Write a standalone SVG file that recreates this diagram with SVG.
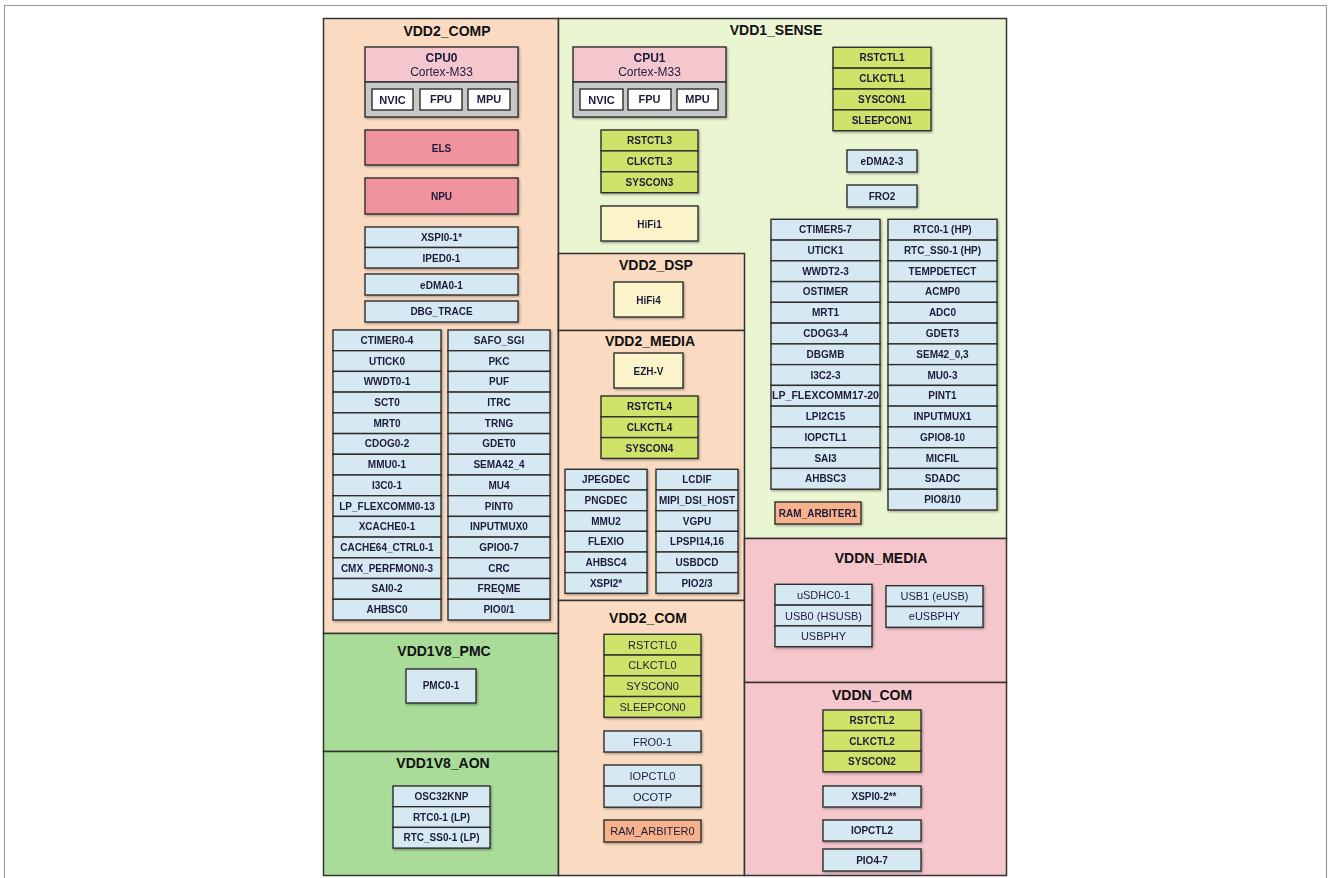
<svg xmlns="http://www.w3.org/2000/svg" width="1328" height="878" viewBox="0 0 1328 878">
<defs>
<filter id="sh" x="-10%" y="-10%" width="130%" height="130%"><feDropShadow dx="1" dy="1.2" stdDeviation="0.9" flood-color="#000" flood-opacity="0.35"/></filter>
<style>
.reg{stroke:#333;stroke-width:1.5}
.peach{fill:#FADBC2}
.sense{fill:#EAF5D1}
.pmc{fill:#A9DC98}
.vddn{fill:#F5C6CC}
.c rect{stroke:#2e2e2e;stroke-width:1.4}
.c{filter:url(#sh)}
.b{fill:#D6E9F3}
.g{fill:#CFE36B}
.y{fill:#FBF4CB}
.o{fill:#F7B28D}
.r{fill:#F1929F}
.p{fill:#F4C7CF}
.gr{fill:#C8C8C8}
.w{fill:#FFFFFF}
text{font-family:"Liberation Sans",Arial,sans-serif;text-anchor:middle;dominant-baseline:central;fill:#1c1c38}
.t{font-size:10px;font-weight:bold}
.tr{font-size:11px}
.h{font-size:14px;font-weight:bold;fill:#111}
.cpu{font-size:12px;font-weight:bold}
.cx{font-size:12px}
.sm{font-size:11px;font-weight:bold}
</style>
</defs>
<rect x="4.5" y="5.5" width="1322" height="900" fill="#fff" stroke="#a0a0a0" stroke-width="1.2"/>

<g id="regions">
<rect id="r-vdd2comp" class="reg peach" x="323.5" y="18.5" width="235" height="615"/>
<rect id="r-pmc" class="reg pmc" x="323.5" y="633.5" width="235" height="118"/>
<rect id="r-aon" class="reg pmc" x="323.5" y="751.5" width="235" height="124"/>
<rect id="r-sense" class="reg sense" x="558.5" y="18.5" width="448" height="520"/>
<rect id="r-dsp" class="reg peach" x="558.5" y="253.5" width="186" height="77"/>
<rect id="r-media" class="reg peach" x="558.5" y="330.5" width="186" height="270"/>
<rect id="r-com" class="reg peach" x="558.5" y="600.5" width="186" height="275"/>
<rect id="r-vddnmedia" class="reg vddn" x="744.5" y="538.5" width="262" height="144"/>
<rect id="r-vddncom" class="reg vddn" x="744.5" y="682.5" width="262" height="193"/>
<text class="h" x="447" y="31">VDD2_COMP</text>
<text class="h" x="776" y="30">VDD1_SENSE</text>
<text class="h" x="656" y="265">VDD2_DSP</text>
<text class="h" x="650" y="341">VDD2_MEDIA</text>
<text class="h" x="648" y="618">VDD2_COM</text>
<text class="h" x="444" y="651">VDD1V8_PMC</text>
<text class="h" x="443" y="763">VDD1V8_AON</text>
<text class="h" x="881" y="558">VDDN_MEDIA</text>
<text class="h" x="872" y="695">VDDN_COM</text>
</g>

<g id="connectors"/>

<!-- VDD2_COMP -->
<g id="cpu0" class="c">
<rect class="p" x="365" y="47" width="153" height="35"/>
<rect class="gr" x="365" y="82" width="153" height="35"/>
<rect class="w" x="372" y="89" width="41" height="21"/>
<rect class="w" x="420" y="89" width="42" height="21"/>
<rect class="w" x="468" y="89" width="42" height="21"/>
<text class="cpu" x="441.5" y="58">CPU0</text>
<text class="cx" x="441.5" y="72">Cortex-M33</text>
<text class="sm" x="392.5" y="100">NVIC</text>
<text class="sm" x="441" y="99">FPU</text>
<text class="sm" x="489" y="99">MPU</text>
</g>
<g id="els" class="c"><rect class="r" x="365" y="130" width="153" height="35"/><text class="t" x="441.5" y="148">ELS</text></g>
<g id="npu" class="c"><rect class="r" x="365" y="178" width="153" height="36"/><text class="t" x="441.5" y="196">NPU</text></g>
<g id="xspi01" class="c">
<rect class="b" x="365" y="227" width="153" height="20.5"/><rect class="b" x="365" y="247.5" width="153" height="20.5"/>
<text class="t" x="441.5" y="237.5">XSPI0-1*</text><text class="t" x="441.5" y="258">IPED0-1</text>
</g>
<g id="edma01" class="c"><rect class="b" x="365" y="274" width="153" height="21"/><text class="t" x="441.5" y="285">eDMA0-1</text></g>
<g id="dbgtrace" class="c"><rect class="b" x="365" y="301" width="153" height="21"/><text class="t" x="441.5" y="311.5">DBG_TRACE</text></g>
<g id="comp-left" class="c">
<rect class="b" x="333" y="330" width="108" height="20.7"/>
<rect class="b" x="333" y="350.7" width="108" height="20.7"/>
<rect class="b" x="333" y="371.4" width="108" height="20.7"/>
<rect class="b" x="333" y="392.1" width="108" height="20.7"/>
<rect class="b" x="333" y="412.8" width="108" height="20.7"/>
<rect class="b" x="333" y="433.6" width="108" height="20.7"/>
<rect class="b" x="333" y="454.3" width="108" height="20.7"/>
<rect class="b" x="333" y="475" width="108" height="20.7"/>
<rect class="b" x="333" y="495.7" width="108" height="20.7"/>
<rect class="b" x="333" y="516.4" width="108" height="20.7"/>
<rect class="b" x="333" y="537.1" width="108" height="20.7"/>
<rect class="b" x="333" y="557.8" width="108" height="20.7"/>
<rect class="b" x="333" y="578.5" width="108" height="20.7"/>
<rect class="b" x="333" y="599.3" width="108" height="20.7"/>
<text class="t" x="387" y="340.4">CTIMER0-4</text>
<text class="t" x="387" y="361.1">UTICK0</text>
<text class="t" x="387" y="381.8">WWDT0-1</text>
<text class="t" x="387" y="402.5">SCT0</text>
<text class="t" x="387" y="423.2">MRT0</text>
<text class="t" x="387" y="443.9">CDOG0-2</text>
<text class="t" x="387" y="464.6">MMU0-1</text>
<text class="t" x="387" y="485.3">I3C0-1</text>
<text class="t" x="387" y="506">LP_FLEXCOMM0-13</text>
<text class="t" x="387" y="526.7">XCACHE0-1</text>
<text class="t" x="387" y="547.4">CACHE64_CTRL0-1</text>
<text class="t" x="387" y="568.1">CMX_PERFMON0-3</text>
<text class="t" x="387" y="588.9">SAI0-2</text>
<text class="t" x="387" y="609.6">AHBSC0</text>
</g>
<g id="comp-right" class="c">
<rect class="b" x="448" y="330" width="102" height="20.7"/>
<rect class="b" x="448" y="350.7" width="102" height="20.7"/>
<rect class="b" x="448" y="371.4" width="102" height="20.7"/>
<rect class="b" x="448" y="392.1" width="102" height="20.7"/>
<rect class="b" x="448" y="412.8" width="102" height="20.7"/>
<rect class="b" x="448" y="433.6" width="102" height="20.7"/>
<rect class="b" x="448" y="454.3" width="102" height="20.7"/>
<rect class="b" x="448" y="475" width="102" height="20.7"/>
<rect class="b" x="448" y="495.7" width="102" height="20.7"/>
<rect class="b" x="448" y="516.4" width="102" height="20.7"/>
<rect class="b" x="448" y="537.1" width="102" height="20.7"/>
<rect class="b" x="448" y="557.8" width="102" height="20.7"/>
<rect class="b" x="448" y="578.5" width="102" height="20.7"/>
<rect class="b" x="448" y="599.3" width="102" height="20.7"/>
<text class="t" x="499" y="340.4">SAFO_SGI</text>
<text class="t" x="499" y="361.1">PKC</text>
<text class="t" x="499" y="381.8">PUF</text>
<text class="t" x="499" y="402.5">ITRC</text>
<text class="t" x="499" y="423.2">TRNG</text>
<text class="t" x="499" y="443.9">GDET0</text>
<text class="t" x="499" y="464.6">SEMA42_4</text>
<text class="t" x="499" y="485.3">MU4</text>
<text class="t" x="499" y="506">PINT0</text>
<text class="t" x="499" y="526.7">INPUTMUX0</text>
<text class="t" x="499" y="547.4">GPIO0-7</text>
<text class="t" x="499" y="568.1">CRC</text>
<text class="t" x="499" y="588.9">FREQME</text>
<text class="t" x="499" y="609.6">PIO0/1</text>
</g>

<!-- VDD1V8 -->
<g id="pmc01" class="c"><rect class="b" x="406" y="669" width="70" height="34"/><text class="t" x="441" y="685.5">PMC0-1</text></g>
<g id="aon" class="c">
<rect class="b" x="393" y="786" width="97" height="20.7"/>
<rect class="b" x="393" y="806.7" width="97" height="20.7"/>
<rect class="b" x="393" y="827.4" width="97" height="20.7"/>
<text class="t" x="441.5" y="796">OSC32KNP</text>
<text class="t" x="441.5" y="817">RTC0-1 (LP)</text>
<text class="t" x="441.5" y="837.8">RTC_SS0-1 (LP)</text>
</g>

<!-- VDD1_SENSE -->
<g id="cpu1" class="c">
<rect class="p" x="573" y="47" width="153" height="35"/>
<rect class="gr" x="573" y="82" width="153" height="35"/>
<rect class="w" x="580" y="89" width="43" height="21"/>
<rect class="w" x="628" y="89" width="43" height="21"/>
<rect class="w" x="677" y="89" width="41" height="21"/>
<text class="cpu" x="649.5" y="58">CPU1</text>
<text class="cx" x="649.5" y="72">Cortex-M33</text>
<text class="sm" x="601.5" y="100">NVIC</text>
<text class="sm" x="649.5" y="99">FPU</text>
<text class="sm" x="697.5" y="99">MPU</text>
</g>
<g id="ctl3" class="c">
<rect class="g" x="601" y="130" width="97" height="20.9"/>
<rect class="g" x="601" y="150.9" width="97" height="20.9"/>
<rect class="g" x="601" y="171.8" width="97" height="20.9"/>
<text class="t" x="649.5" y="140.5">RSTCTL3</text>
<text class="t" x="649.5" y="161.4">CLKCTL3</text>
<text class="t" x="649.5" y="182.3">SYSCON3</text>
</g>
<g id="hifi1" class="c"><rect class="y" x="601" y="206" width="97" height="35"/><text class="t" x="649.5" y="224">HiFi1</text></g>
<g id="ctl1" class="c">
<rect class="g" x="833" y="47.3" width="98" height="20.85"/>
<rect class="g" x="833" y="68.15" width="98" height="20.85"/>
<rect class="g" x="833" y="89" width="98" height="20.85"/>
<rect class="g" x="833" y="109.85" width="98" height="20.85"/>
<text class="t" x="882" y="57.7">RSTCTL1</text>
<text class="t" x="882" y="78.6">CLKCTL1</text>
<text class="t" x="882" y="99.4">SYSCON1</text>
<text class="t" x="882" y="120.3">SLEEPCON1</text>
</g>
<g id="edma23" class="c"><rect class="b" x="847" y="150" width="70" height="22"/><text class="t" x="882" y="161">eDMA2-3</text></g>
<g id="fro2" class="c"><rect class="b" x="847" y="185" width="70" height="22"/><text class="t" x="882" y="196">FRO2</text></g>
<g id="sense-left" class="c">
<rect class="b" x="771" y="219.3" width="109" height="20.8"/>
<rect class="b" x="771" y="240.1" width="109" height="20.8"/>
<rect class="b" x="771" y="260.8" width="109" height="20.8"/>
<rect class="b" x="771" y="281.6" width="109" height="20.8"/>
<rect class="b" x="771" y="302.3" width="109" height="20.8"/>
<rect class="b" x="771" y="323.1" width="109" height="20.8"/>
<rect class="b" x="771" y="343.9" width="109" height="20.8"/>
<rect class="b" x="771" y="364.6" width="109" height="20.8"/>
<rect class="b" x="771" y="385.4" width="109" height="20.8"/>
<rect class="b" x="771" y="406.1" width="109" height="20.8"/>
<rect class="b" x="771" y="426.9" width="109" height="20.8"/>
<rect class="b" x="771" y="447.7" width="109" height="20.8"/>
<rect class="b" x="771" y="468.4" width="109" height="20.8"/>
<text class="t" x="825.5" y="229.7">CTIMER5-7</text>
<text class="t" x="825.5" y="250.4">UTICK1</text>
<text class="t" x="825.5" y="271.2">WWDT2-3</text>
<text class="t" x="825.5" y="291.9">OSTIMER</text>
<text class="t" x="825.5" y="312.7">MRT1</text>
<text class="t" x="825.5" y="333.5">CDOG3-4</text>
<text class="t" x="825.5" y="354.2">DBGMB</text>
<text class="t" x="825.5" y="375">I3C2-3</text>
<text class="t" x="825.5" y="395.8" textLength="107" lengthAdjust="spacingAndGlyphs">LP_FLEXCOMM17-20</text>
<text class="t" x="825.5" y="416.5">LPI2C15</text>
<text class="t" x="825.5" y="437.3">IOPCTL1</text>
<text class="t" x="825.5" y="458">SAI3</text>
<text class="t" x="825.5" y="478.8">AHBSC3</text>
</g>
<g id="sense-right" class="c">
<rect class="b" x="888" y="219.3" width="109" height="20.8"/>
<rect class="b" x="888" y="240.1" width="109" height="20.8"/>
<rect class="b" x="888" y="260.8" width="109" height="20.8"/>
<rect class="b" x="888" y="281.6" width="109" height="20.8"/>
<rect class="b" x="888" y="302.3" width="109" height="20.8"/>
<rect class="b" x="888" y="323.1" width="109" height="20.8"/>
<rect class="b" x="888" y="343.9" width="109" height="20.8"/>
<rect class="b" x="888" y="364.6" width="109" height="20.8"/>
<rect class="b" x="888" y="385.4" width="109" height="20.8"/>
<rect class="b" x="888" y="406.1" width="109" height="20.8"/>
<rect class="b" x="888" y="426.9" width="109" height="20.8"/>
<rect class="b" x="888" y="447.7" width="109" height="20.8"/>
<rect class="b" x="888" y="468.4" width="109" height="20.8"/>
<rect class="b" x="888" y="489.2" width="109" height="20.8"/>
<text class="t" x="942.5" y="229.7">RTC0-1 (HP)</text>
<text class="t" x="942.5" y="250.4">RTC_SS0-1 (HP)</text>
<text class="t" x="942.5" y="271.2">TEMPDETECT</text>
<text class="t" x="942.5" y="291.9">ACMP0</text>
<text class="t" x="942.5" y="312.7">ADC0</text>
<text class="t" x="942.5" y="333.5">GDET3</text>
<text class="t" x="942.5" y="354.2">SEM42_0,3</text>
<text class="t" x="942.5" y="375">MU0-3</text>
<text class="t" x="942.5" y="395.8">PINT1</text>
<text class="t" x="942.5" y="416.5">INPUTMUX1</text>
<text class="t" x="942.5" y="437.3">GPIO8-10</text>
<text class="t" x="942.5" y="458">MICFIL</text>
<text class="t" x="942.5" y="478.8">SDADC</text>
<text class="t" x="942.5" y="499.6">PIO8/10</text>
</g>
<g id="ramarb1" class="c"><rect class="o" x="775" y="502" width="86" height="22"/><text class="t" x="818" y="513">RAM_ARBITER1</text></g>

<!-- VDD2_DSP / MEDIA -->
<g id="hifi4" class="c"><rect class="y" x="614" y="282" width="69" height="35"/><text class="t" x="648.5" y="300">HiFi4</text></g>
<g id="ezhv" class="c"><rect class="y" x="614" y="353" width="69" height="35"/><text class="t" x="648.5" y="371">EZH-V</text></g>
<g id="ctl4" class="c">
<rect class="g" x="601" y="396" width="97" height="20.8"/>
<rect class="g" x="601" y="416.8" width="97" height="20.8"/>
<rect class="g" x="601" y="437.6" width="97" height="20.8"/>
<text class="t" x="649.5" y="406.4">RSTCTL4</text>
<text class="t" x="649.5" y="427.2">CLKCTL4</text>
<text class="t" x="649.5" y="448">SYSCON4</text>
</g>
<g id="media-left" class="c">
<rect class="b" x="565" y="469.3" width="82" height="20.7"/>
<rect class="b" x="565" y="490" width="82" height="20.7"/>
<rect class="b" x="565" y="510.7" width="82" height="20.7"/>
<rect class="b" x="565" y="531.3" width="82" height="20.7"/>
<rect class="b" x="565" y="552" width="82" height="20.7"/>
<rect class="b" x="565" y="572.6" width="82" height="20.7"/>
<text class="t" x="606" y="479.6">JPEGDEC</text>
<text class="t" x="606" y="500.3">PNGDEC</text>
<text class="t" x="606" y="521">MMU2</text>
<text class="t" x="606" y="541.6">FLEXIO</text>
<text class="t" x="606" y="562.3">AHBSC4</text>
<text class="t" x="606" y="583">XSPI2*</text>
</g>
<g id="media-right" class="c">
<rect class="b" x="656" y="469.3" width="82" height="20.7"/>
<rect class="b" x="656" y="490" width="82" height="20.7"/>
<rect class="b" x="656" y="510.7" width="82" height="20.7"/>
<rect class="b" x="656" y="531.3" width="82" height="20.7"/>
<rect class="b" x="656" y="552" width="82" height="20.7"/>
<rect class="b" x="656" y="572.6" width="82" height="20.7"/>
<text class="t" x="697" y="479.6">LCDIF</text>
<text class="t" x="697" y="500.3">MIPI_DSI_HOST</text>
<text class="t" x="697" y="521">VGPU</text>
<text class="t" x="697" y="541.6">LPSPI14,16</text>
<text class="t" x="697" y="562.3">USBDCD</text>
<text class="t" x="697" y="583">PIO2/3</text>
</g>

<!-- VDD2_COM -->
<g id="ctl0" class="c">
<rect class="g" x="604" y="634.3" width="97" height="20.75"/>
<rect class="g" x="604" y="655.05" width="97" height="20.75"/>
<rect class="g" x="604" y="675.8" width="97" height="20.75"/>
<rect class="g" x="604" y="696.55" width="97" height="20.75"/>
<text class="tr" x="652.5" y="644.7">RSTCTL0</text>
<text class="tr" x="652.5" y="665.4">CLKCTL0</text>
<text class="tr" x="652.5" y="686.2">SYSCON0</text>
<text class="tr" x="652.5" y="706.9">SLEEPCON0</text>
</g>
<g id="fro01" class="c"><rect class="b" x="604" y="731" width="97" height="21"/><text class="tr" x="652.5" y="741.5">FRO0-1</text></g>
<g id="iopctl0" class="c">
<rect class="b" x="604" y="765" width="97" height="21.1"/>
<rect class="b" x="604" y="786.1" width="97" height="21.1"/>
<text class="tr" x="652.5" y="775.6">IOPCTL0</text>
<text class="tr" x="652.5" y="796.7">OCOTP</text>
</g>
<g id="ramarb0" class="c"><rect class="o" x="604" y="820" width="97" height="22"/><text class="tr" x="652.5" y="831">RAM_ARBITER0</text></g>

<!-- VDDN_MEDIA -->
<g id="usdhc" class="c">
<rect class="b" x="775" y="584.3" width="97" height="20.8"/>
<rect class="b" x="775" y="605.1" width="97" height="20.8"/>
<rect class="b" x="775" y="625.9" width="97" height="20.8"/>
<text class="tr" x="823.5" y="594.7">uSDHC0-1</text>
<text class="tr" x="823.5" y="615.5">USB0 (HSUSB)</text>
<text class="tr" x="823.5" y="636.3">USBPHY</text>
</g>
<g id="usb1" class="c">
<rect class="b" x="886" y="585.7" width="97" height="20.8"/>
<rect class="b" x="886" y="606.5" width="97" height="20.8"/>
<text class="tr" x="934.5" y="595.6">USB1 (eUSB)</text>
<text class="tr" x="934.5" y="616.4">eUSBPHY</text>
</g>

<!-- VDDN_COM -->
<g id="ctl2" class="c">
<rect class="g" x="823" y="710" width="98" height="20.6"/>
<rect class="g" x="823" y="730.6" width="98" height="20.6"/>
<rect class="g" x="823" y="751.2" width="98" height="20.6"/>
<text class="t" x="872" y="720.3">RSTCTL2</text>
<text class="t" x="872" y="741">CLKCTL2</text>
<text class="t" x="872" y="761.5">SYSCON2</text>
</g>
<g id="xspi02" class="c"><rect class="b" x="823" y="786" width="98" height="21"/><text class="t" x="874" y="796.5">XSPI0-2**</text></g>
<g id="iopctl2" class="c"><rect class="b" x="823" y="820" width="98" height="21"/><text class="t" x="872" y="830.5">IOPCTL2</text></g>
<g id="pio47" class="c"><rect class="b" x="823" y="849" width="98" height="22"/><text class="t" x="872" y="860">PIO4-7</text></g>
</svg>
